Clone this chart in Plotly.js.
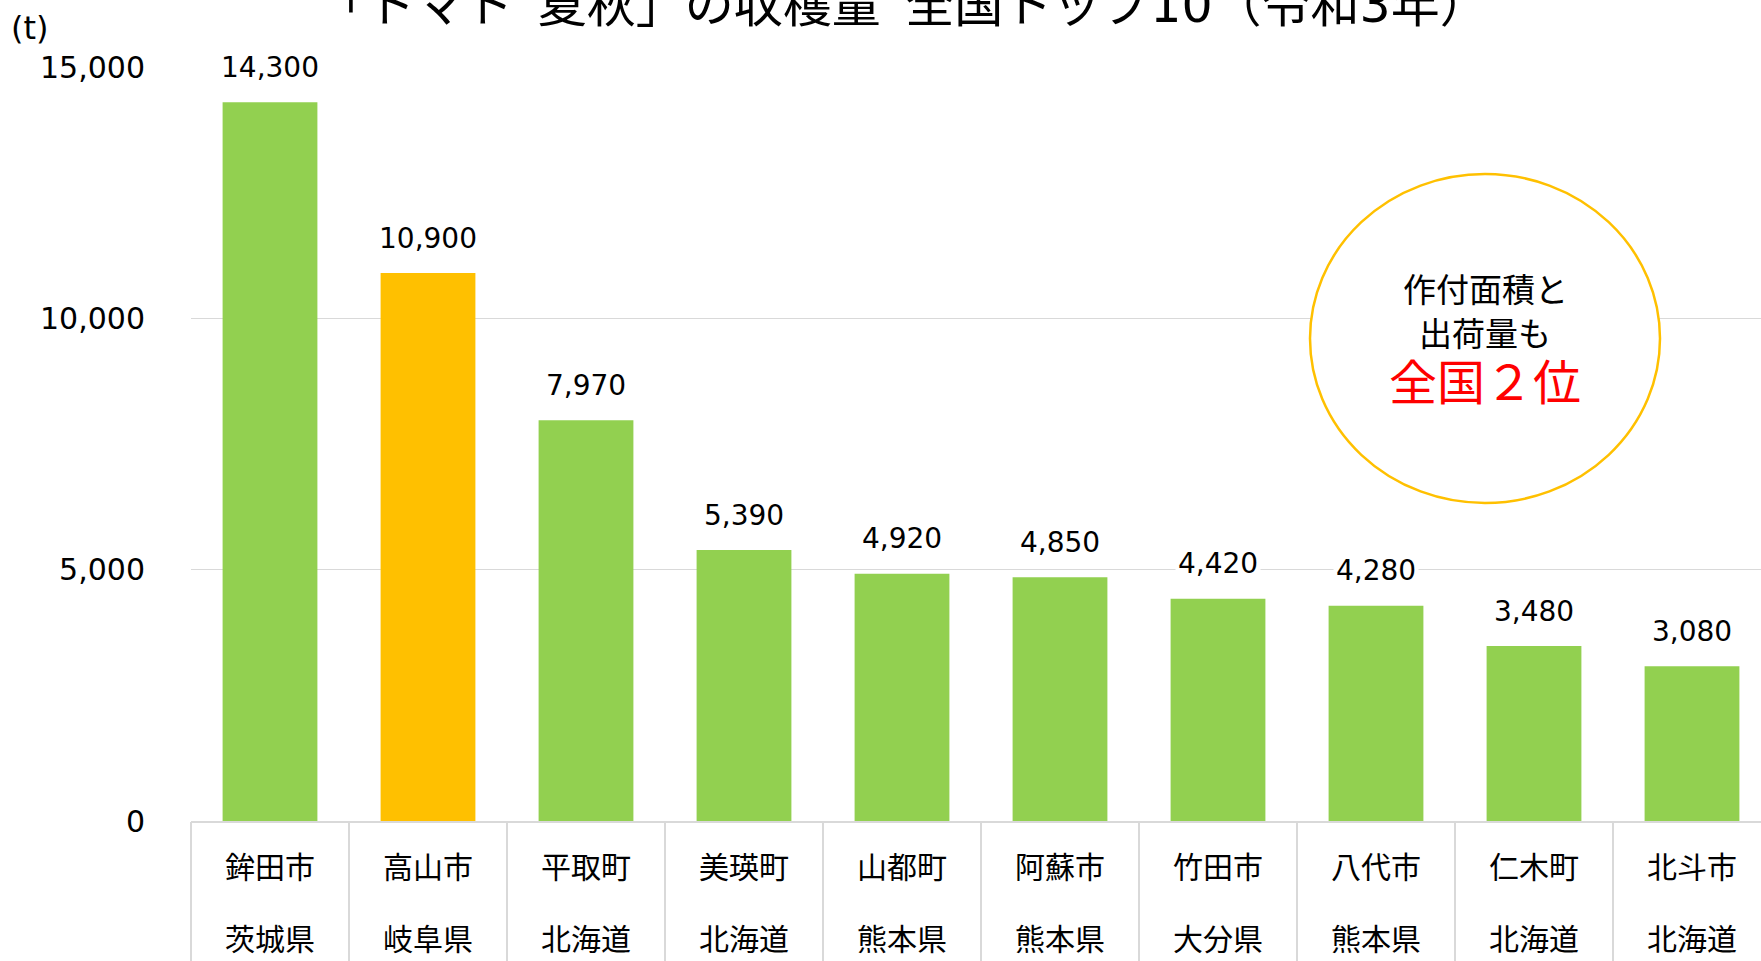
<!DOCTYPE html>
<html>
<head>
<meta charset="utf-8">
<script src="https://cdn.plot.ly/plotly-3.0.1.min.js"></script>
<style>
  html, body { margin: 0; padding: 0; background: #fff; }
  #chart { width: 1761px; height: 961px; }
</style>
</head>
<body>
<div id="chart"></div>
<script>
// ---- data ----
const cities = ["鉾田市", "高山市", "平取町", "美瑛町", "山都町", "阿蘇市", "竹田市", "八代市", "仁木町", "北斗市"];
const prefectures = ["茨城県", "岐阜県", "北海道", "北海道", "熊本県", "熊本県", "大分県", "熊本県", "北海道", "北海道"];
const harvest = [14300, 10900, 7970, 5390, 4920, 4850, 4420, 4280, 3480, 3080];
const highlightCity = "高山市";
const yTicks = [0, 5000, 10000, 15000];
const titleText = "「トマト\u2002夏秋」の収穫量\u2002全国トップ10（令和3年）";
const unitText = "(t)";
const noteLines = ["作付面積と", "出荷量も"];
const noteEmphasis = "全国２位";

// ---- layout helpers ----
const W = 1761, H = 961;
const M = { l: 191, r: 0, t: 67, b: 140 };
const PW = W - M.l - M.r, PH = H - M.t - M.b;
const catWidthPx = 158;
const px = x => (x - M.l) / PW;          // pixel -> paper x
const py = y => (H - M.b - y) / PH;      // pixel -> paper y

const FONT = "DejaVu Sans, Noto Sans CJK JP, sans-serif";
const GREEN = "#92D050", ORANGE = "#FFC000", GRID = "#D9D9D9";

const colors = cities.map(c => c === highlightCity ? ORANGE : GREEN);
const xRange = [-0.5, -0.5 + PW / catWidthPx];

const ghost = axis => ({
  type: "scatter", mode: "markers",
  x: cities, y: harvest,
  marker: { opacity: 0, size: 1 },
  hoverinfo: "skip", showlegend: false,
  xaxis: axis, yaxis: "y"
});

const traces = [
  {
    type: "bar",
    x: cities,
    y: harvest,
    marker: { color: colors },
    width: 0.6,
    hoverinfo: "skip",
    xaxis: "x", yaxis: "y"
  },
  ghost("x2"),
  ghost("x3")
];

const annotations = harvest.map((v, i) => ({
  x: cities[i], y: v, xref: "x", yref: "y",
  text: v.toLocaleString("en-US"),
  showarrow: false, yanchor: "middle", yshift: 35,
  bgcolor: "#ffffff", borderpad: 2,
  font: { family: FONT, size: 28, color: "#000" }
}));

annotations.push({
  x: px(30), y: py(28), xref: "paper", yref: "paper",
  text: unitText, showarrow: false, xanchor: "center", yanchor: "middle",
  font: { family: FONT, size: 32, color: "#000" }
});

const noteY = [290, 334];
noteLines.forEach((t, i) => annotations.push({
  x: px(1485), y: py(noteY[i]), xref: "paper", yref: "paper",
  text: t, showarrow: false, xanchor: "center", yanchor: "middle",
  font: { family: FONT, size: 33, color: "#000" }
}));
annotations.push({
  x: px(1485), y: py(383), xref: "paper", yref: "paper",
  text: noteEmphasis, showarrow: false, xanchor: "center", yanchor: "middle",
  font: { family: FONT, size: 48, color: "#FF0000" }
});

const catAxisBase = {
  type: "category",
  range: xRange,
  showgrid: false,
  fixedrange: true,
  tickfont: { family: FONT, size: 30, color: "#000" }
};

const layout = {
  width: W, height: H,
  margin: M,
  paper_bgcolor: "#fff", plot_bgcolor: "#fff",
  showlegend: false,
  title: {
    text: titleText,
    x: 903 / W, xanchor: "center",
    y: 1 - 5 / H, yanchor: "middle", yref: "container",
    font: { family: FONT, size: 49, color: "#000" }
  },
  xaxis: Object.assign({}, catAxisBase, {
    showline: true, linecolor: GRID, linewidth: 1.5,
    ticks: "",
    ticklabelstandoff: 19
  }),
  xaxis2: Object.assign({}, catAxisBase, {
    overlaying: "x", anchor: "y", side: "bottom",
    showline: false,
    tickson: "boundaries",
    ticks: "outside", ticklen: 150, tickwidth: 1.5, tickcolor: GRID,
    showticklabels: false
  }),
  xaxis3: Object.assign({}, catAxisBase, {
    overlaying: "x", anchor: "y", side: "bottom",
    showline: false,
    ticks: "",
    tickmode: "array", tickvals: cities, ticktext: prefectures,
    ticklabelstandoff: 98
  }),
  yaxis: {
    range: [0, 15000],
    tickvals: yTicks,
    ticktext: yTicks.map(v => v.toLocaleString("en-US")),
    showgrid: true, gridcolor: GRID, gridwidth: 1.5,
    zeroline: false,
    showline: false,
    ticks: "",
    ticklabelstandoff: 45,
    tickfont: { family: FONT, size: 30, color: "#000" },
    fixedrange: true
  },
  shapes: [
    {
      type: "circle", xref: "paper", yref: "paper", layer: "above",
      x0: px(1310), x1: px(1660), y0: py(503), y1: py(174),
      line: { color: ORANGE, width: 2.5 },
      fillcolor: "#ffffff"
    }
  ],
  annotations: annotations
};

Plotly.newPlot("chart", traces, layout, { staticPlot: true, displayModeBar: false });
</script>
</body>
</html>
